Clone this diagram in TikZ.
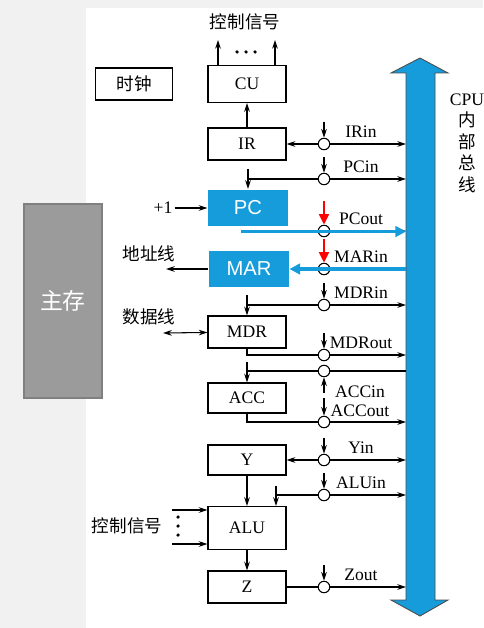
\documentclass[tikz,border=0pt]{standalone}
\usepackage{fontspec}
\setmainfont{Liberation Serif}
\newfontfamily\cjk{Noto Sans CJK SC}
\newfontfamily\sansf{Liberation Sans}
\usetikzlibrary{arrows.meta,calc}
\definecolor{busblue}{RGB}{22,156,218}
\definecolor{memgray}{RGB}{155,155,155}
\definecolor{bggray}{RGB}{241,241,241}
\tikzset{
  reg/.style={draw, minimum width=1.56cm, minimum height=0.64cm, font=\fontsize{10}{12}\selectfont},
  bluereg/.style={fill=busblue, text=white, minimum width=1.6cm, minimum height=0.74cm, font=\sansf\fontsize{11.5}{13}\selectfont},
  sw/.style={circle, draw, fill=white, inner sep=0pt, minimum size=0.23cm},
  lbl/.style={font=\fontsize{10}{12}\selectfont, inner sep=1pt},
  cn/.style={font=\cjk\fontsize{10}{12}\selectfont, inner sep=1pt},
  arr/.style={-{Stealth[length=5pt,width=3.2pt]}},
  darr/.style={{Stealth[length=5pt,width=3.2pt]}-{Stealth[length=5pt,width=3.2pt]}},
  redarr/.style={red, line width=1.5pt, -{Triangle[length=6pt,width=5.5pt]}},
  blueline/.style={busblue, line width=1.8pt, -{Triangle[length=6pt,width=6pt]}}
}
\begin{document}
\begin{tikzpicture}[x=0.02cm, y=-0.02cm, line width=0.6pt]
\useasboundingbox (0,0) rectangle (483,628);
\fill[bggray] (0,0) rectangle (483,628);
\fill[white] (86,8) rectangle (483,628);

% internal bus
\fill[busblue] (420,58) -- (448,73) -- (435,73) -- (435,600) -- (448,600) -- (420,616)
  -- (391,600) -- (406,600) -- (406,73) -- (391,73) -- cycle;
\draw[gray!60!black, line width=0.5pt] (420,58) -- (448,73) -- (435,73) -- (435,600) -- (448,600) -- (420,616)
  -- (391,600) -- (406,600) -- (406,73) -- (391,73) -- cycle;
\coordinate (busl) at (406,0);
\node[align=center, font=\fontsize{10}{12.2}\selectfont] (busname) at (467,143)
  {CPU\\{\cjk 内}\\{\cjk 部}\\{\cjk 总}\\{\cjk 线}};

% registers
\node[reg, minimum height=0.74cm] (cu) at (247,84) {CU};
\node[reg, minimum width=1.54cm, font=\cjk\fontsize{10}{12}\selectfont] (clk) at (134,84) {时钟};
\node[reg] (ir) at (247,144) {IR};
\node[bluereg] (pc) at (248,208) {PC};
\node[bluereg, minimum height=0.72cm] (mar) at (249,269) {MAR};
\node[reg] (mdr) at (247,332) {MDR};
\node[reg, minimum height=0.6cm] (acc) at (247,398) {ACC};
\node[reg, minimum height=0.6cm] (y) at (247,460) {Y};
\node[reg, minimum height=0.86cm] (alu) at (247,528) {ALU};
\node[reg] (z) at (247,587) {Z};
\node[fill=memgray, draw=gray, minimum width=1.56cm, minimum height=3.88cm, text=white,
  font=\cjk\fontsize{13}{15}\selectfont] (mem) at (63,301) {主存};

% outside texts
\node[cn] (ctltop) at (245,22) {控制信号};
\foreach \d in {237,246,255} \fill (\d,52) circle (1pt);
\node[lbl] (plus) at (163,208) {+1};
\node[cn] (addrtxt) at (149,254) {地址线};
\node[cn] (datatxt) at (149,317) {数据线};
\node[cn] (ctlalu) at (127,526) {控制信号};
\coordinate (addr) at (166,269);
\coordinate (data) at (163,333);
\coordinate (ca) at (172,510);
\coordinate (cb) at (172,544);
\foreach \d in {517,526,535} \fill (178,\d) circle (1pt);

% switches and their labels
\foreach \n/\y/\t in {irin/144/IRin, pcin/179/PCin, pcout/231/PCout, marin/269/MARin,
    mdrin/305/MDRin, mdrout/355/MDRout, yin/460/Yin, aluin/495/ALUin, zout/587/Zout} {
  \node[sw] (\n) at (324,\y) {};
  \node[lbl] (\n-t) at (361,\y-12) {\t};
}
\node[sw] (accin) at (324,371) {};
\node[sw] (accout) at (324,422) {};
\node[lbl] (accin-t) at (360,392) {ACCin};
\node[lbl] (accout-t) at (360,411) {ACCout};

% control inputs of the switches
\foreach \n in {irin,pcin,mdrin,mdrout,yin,aluin,zout}
  \draw[arr] ($(\n.north)+(0,-16)$) -- (\n.north);
\draw[arr] ($(accin.south)+(0,16)$) -- (accin.south);
\draw[arr] ($(accout.north)+(0,-18)$) -- (accout.north);

% to the bus
\foreach \n in {irin,pcin,pcout,mdrin,mdrout,accout,yin,aluin,zout}
  \draw[arr] (\n) -- (\n -| busl);
\draw (accin) -- (accin -| busl);
\draw (marin) -- (marin -| busl);

% register side
\draw[arr] (ir) -- (cu);
\draw[arr] ($(cu.north)+(-29,0)$) -- ++(0,-25);
\draw[arr] ($(cu.north)+(28,0)$) -- ++(0,-25);
\draw[arr] (irin) -- (ir);
\draw (pcin) -- (pcin -| pc.north);
\draw[arr] ($(pc.north)+(0,-20)$) -- (pc.north);
\draw[arr] (plus) -- (pc);
\draw[arr] (mar) -- (addr);
\draw[darr] (data) -- (mdr);
\draw (mdrin) -- (mdrin -| mdr.north);
\draw[arr] ($(mdr.north)+(0,-20)$) -- (mdr.north);
\draw (mdr.south) |- (mdrout);
\draw (accin) -- (accin -| acc.north);
\draw[arr] ($(acc.north)+(0,-20)$) -- (acc.north);
\draw (acc.south) |- (accout);
\draw[arr] (yin) -- (y);
\draw[arr] (y.south) -- (y.south |- alu.north);
\coordinate (alutop) at ($(alu.north)+(29,0)$);
\draw (aluin) -- (aluin -| alutop);
\draw[arr] ($(alutop)+(0,-20)$) -- (alutop);
\draw[arr] (ca) -- (ca -| alu.west);
\draw[arr] (cb) -- (cb -| alu.west);
\draw[arr] (alu) -- (z);
\draw (z) -- (zout);

% highlighted transfer PC -> MAR
\coordinate (pcb) at ($(pc.south)+(-7,4.5)$);
\draw[blueline] (pcb) -- (pcb -| busl);
\draw[blueline] (marin -| busl) -- (mar.east);
\draw[redarr] ($(pcout.north)+(0,-24)$) -- (pcout.north);
\draw[redarr] ($(marin.north)+(0,-24)$) -- (marin.north);
\end{tikzpicture}
\end{document}
